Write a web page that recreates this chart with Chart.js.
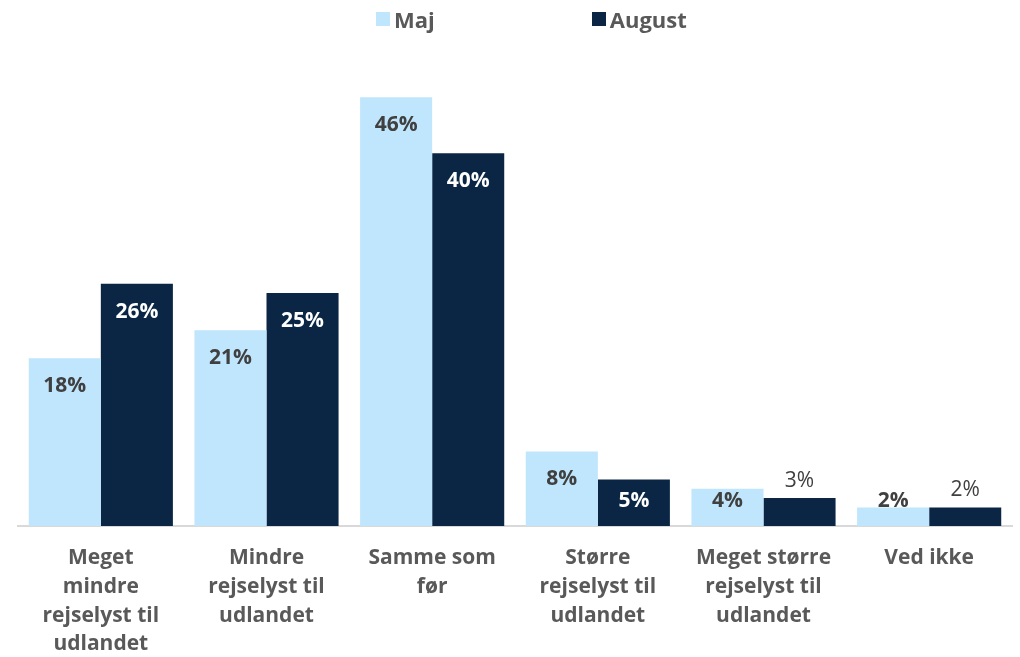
<!DOCTYPE html>
<html>
<head>
<meta charset="utf-8">
<script src="https://cdn.jsdelivr.net/npm/chart.js@4/dist/chart.umd.min.js"></script>
<style>
  body { margin: 0; background: #fff; font-family: "Open Sans", sans-serif; }
  #wrap { position: relative; width: 1020px; height: 657px; }
  #legend { position: absolute; top: 4px; left: 376px; display: flex; font-weight: 700; font-size: 22px; color: #595959; }
  #legend .item { display: flex; align-items: center; }
  #legend .box { width: 14px; height: 14px; margin-right: 4px; }
</style>
</head>
<body>
<div id="wrap">
  <div id="legend"></div>
  <canvas id="chart" width="1020" height="657"></canvas>
</div>
<script>
// categories (multi-line tick labels)
const categories = [
  ['Meget', 'mindre', 'rejselyst til', 'udlandet'],
  ['Mindre', 'rejselyst til', 'udlandet'],
  ['Samme som', 'før'],
  ['Større', 'rejselyst til', 'udlandet'],
  ['Meget større', 'rejselyst til', 'udlandet'],
  ['Ved ikke']
];
const seriesNames = ['Maj', 'August'];
const maj = [18, 21, 46, 8, 4, 2];
const august = [26, 25, 40, 5, 3, 2];

const colors = ['#BFE6FD', '#0A2644'];
const labelColors = ['#404040', '#FFFFFF'];

// legend as html text
const legend = document.getElementById('legend');
seriesNames.forEach((name, i) => {
  const item = document.createElement('div');
  item.className = 'item';
  if (i === 0) item.style.marginRight = '157px';
  item.innerHTML = '<span class="box" style="background:' + colors[i] + '"></span>' + name;
  legend.appendChild(item);
});

// value labels on bars
const barLabels = {
  id: 'barLabels',
  afterDatasetsDraw(chart) {
    const ctx = chart.ctx;
    ctx.save();
    ctx.textAlign = 'center';
    ctx.textBaseline = 'middle';
    chart.data.datasets.forEach((ds, di) => {
      chart.getDatasetMeta(di).data.forEach((bar, i) => {
        const v = ds.data[i];
        let y = Math.min(bar.y + 28, bar.base - 25);
        let color = labelColors[di];
        ctx.font = 'bold 21px "Open Sans"';
        if (di === 1 && v < 4) {
          // small dark bars: label above the bar
          y = Math.min(bar.y - 17, bar.base - 25);
          color = '#404040';
          ctx.font = '21px "Open Sans"';
        }
        ctx.fillStyle = color;
        ctx.fillText(v + '%', bar.x, y);
      });
    });
    ctx.restore();
  }
};

new Chart(document.getElementById('chart'), {
  type: 'bar',
  data: {
    labels: categories,
    datasets: [
      { label: seriesNames[0], data: maj, backgroundColor: colors[0] },
      { label: seriesNames[1], data: august, backgroundColor: colors[1] }
    ]
  },
  options: {
    responsive: false,
    animation: false,
    layout: { padding: { top: 60, left: 18, right: 8, bottom: -11 } },
    categoryPercentage: 0.87,
    barPercentage: 1,
    scales: {
      x: {
        grid: { display: false },
        border: { color: '#D9D9D9', width: 2 },
        ticks: {
          color: '#595959',
          font: { family: 'Open Sans', size: 21, weight: 'bold', lineHeight: 1.38 },
          padding: 9,
          maxRotation: 0,
          autoSkip: false
        }
      },
      y: { display: false, min: 0, max: 50 }
    },
    plugins: {
      legend: { display: false },
      tooltip: { enabled: false }
    }
  },
  plugins: [barLabels]
});
</script>
</body>
</html>
